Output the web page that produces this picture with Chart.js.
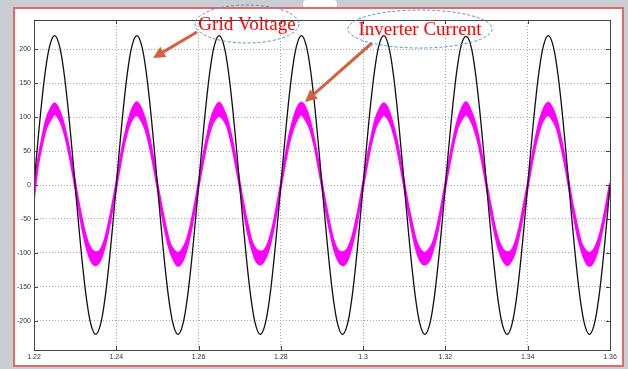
<!DOCTYPE html>
<html>
<head>
<meta charset="utf-8">
<script src="https://cdn.jsdelivr.net/npm/chart.js@4"></script>
<style>
  html, body { margin: 0; padding: 0; background: #fff; }
  #wrap { width: 628px; height: 369px; }
</style>
</head>
<body>
<div id="wrap"><canvas id="scopeChart" width="628" height="369"></canvas></div>
<script>
// sample instants (s)
const times = [
  1.220,1.221,1.222,1.223,1.224,1.225,1.226,1.227,1.228,1.229,1.230,1.231,1.232,1.233,1.234,1.235,1.236,1.237,1.238,1.239,
  1.240,1.241,1.242,1.243,1.244,1.245,1.246,1.247,1.248,1.249,1.250,1.251,1.252,1.253,1.254,1.255,1.256,1.257,1.258,1.259,
  1.260,1.261,1.262,1.263,1.264,1.265,1.266,1.267,1.268,1.269,1.270,1.271,1.272,1.273,1.274,1.275,1.276,1.277,1.278,1.279,
  1.280,1.281,1.282,1.283,1.284,1.285,1.286,1.287,1.288,1.289,1.290,1.291,1.292,1.293,1.294,1.295,1.296,1.297,1.298,1.299,
  1.300,1.301,1.302,1.303,1.304,1.305,1.306,1.307,1.308,1.309,1.310,1.311,1.312,1.313,1.314,1.315,1.316,1.317,1.318,1.319,
  1.320,1.321,1.322,1.323,1.324,1.325,1.326,1.327,1.328,1.329,1.330,1.331,1.332,1.333,1.334,1.335,1.336,1.337,1.338,1.339,
  1.340,1.341,1.342,1.343,1.344,1.345,1.346,1.347,1.348,1.349,1.350,1.351,1.352,1.353,1.354,1.355,1.356,1.357,1.358,1.359,
  1.360
];

const gridVoltage = [
  0, 68, 129, 178, 209, 220, 209, 178, 129, 68, 0, -68, -129, -178, -209, -220, -209, -178, -129, -68,
  0, 68, 129, 178, 209, 220, 209, 178, 129, 68, 0, -68, -129, -178, -209, -220, -209, -178, -129, -68,
  0, 68, 129, 178, 209, 220, 209, 178, 129, 68, 0, -68, -129, -178, -209, -220, -209, -178, -129, -68,
  0, 68, 129, 178, 209, 220, 209, 178, 129, 68, 0, -68, -129, -178, -209, -220, -209, -178, -129, -68,
  0, 68, 129, 178, 209, 220, 209, 178, 129, 68, 0, -68, -129, -178, -209, -220, -209, -178, -129, -68,
  0, 68, 129, 178, 209, 219, 209, 178, 129, 68, 0, -68, -129, -178, -209, -220, -209, -178, -129, -68,
  0, 68, 129, 178, 209, 220, 209, 178, 129, 68, 0, -68, -129, -178, -209, -220, -209, -178, -129, -68,
  0
];

// inverter current: top and bottom of the noisy band
const currentUpper = [
  -2, 38, 70, 97, 112, 120, 112, 95, 70, 40, 4, -30, -60, -83, -95, -99, -97, -84, -60, -30,
  3, 40, 71, 96, 114, 122, 113, 97, 72, 39, 2, -31, -61, -85, -96, -100, -95, -83, -61, -31,
  3, 39, 70, 97, 113, 121, 112, 96, 71, 40, 3, -30, -60, -84, -95, -98, -96, -84, -62, -31,
  2, 39, 72, 96, 114, 121, 114, 96, 70, 39, 3, -31, -61, -85, -97, -99, -96, -83, -60, -30,
  3, 40, 71, 97, 112, 120, 113, 95, 71, 40, 3, -31, -60, -84, -96, -100, -95, -84, -61, -31,
  3, 39, 70, 96, 113, 122, 112, 96, 72, 39, 2, -30, -61, -83, -95, -99, -97, -84, -61, -30,
  2, 39, 71, 97, 114, 121, 113, 97, 71, 40, 3, -31, -60, -85, -96, -100, -96, -83, -61, -31,
  3
];
const currentLower = [
  -20, 30, 60, 84, 96, 104, 98, 84, 61, 31, -3, -39, -72, -97, -113, -118, -112, -95, -70, -38,
  -4, 31, 62, 85, 98, 103, 96, 83, 60, 30, -4, -40, -71, -96, -111, -119, -113, -97, -72, -39,
  -3, 30, 61, 84, 97, 102, 97, 85, 61, 31, -3, -39, -72, -95, -112, -117, -111, -96, -71, -40,
  -3, 31, 61, 83, 97, 104, 96, 84, 62, 31, -3, -39, -70, -96, -112, -118, -113, -96, -71, -39,
  -3, 31, 62, 84, 96, 103, 98, 84, 61, 30, -4, -39, -71, -97, -113, -117, -112, -95, -72, -39,
  -3, 30, 61, 85, 97, 104, 97, 83, 61, 31, -3, -40, -71, -96, -111, -118, -112, -97, -71, -40,
  -4, 31, 61, 84, 98, 103, 96, 84, 60, 31, -3, -39, -72, -95, -112, -119, -113, -96, -70, -39,
  -3
];

const xTickValues = [1.22, 1.24, 1.26, 1.28, 1.30, 1.32, 1.34, 1.36];
const xTickLabels = ['1.22', '1.24', '1.26', '1.28', '1.3', '1.32', '1.34', '1.36'];
const yTickValues = [-200, -150, -100, -50, 0, 50, 100, 150, 200];

const callouts = [
  { text: 'Grid Voltage', cx: 247, cy: 24, rx: 52, ry: 19, from: [197, 32], to: [153, 58] },
  { text: 'Inverter Current', cx: 420, cy: 29, rx: 72, ry: 19, from: [372, 43], to: [305, 102] }
];

// page frame behind the chart
const framePlugin = {
  id: 'frame',
  beforeDraw(chart) {
    const ctx = chart.ctx;
    ctx.save();
    ctx.fillStyle = '#c9ced3';
    ctx.fillRect(0, 0, chart.width, chart.height);
    ctx.fillStyle = '#ffffff';
    ctx.fillRect(13, 7, 611, 360);
    ctx.beginPath();
    ctx.roundRect(303, 0, 34, 8, 6);
    ctx.fill();
    ctx.strokeStyle = '#e06a6a';
    ctx.lineWidth = 2;
    ctx.strokeRect(14, 8, 609, 358);
    ctx.restore();
  }
};

// scope style box with inward ticks, plus the callouts
const scopeBoxPlugin = {
  id: 'scopeBox',
  afterDraw(chart) {
    const ctx = chart.ctx;
    const a = chart.chartArea;
    const xs = chart.scales.x;
    const ys = chart.scales.y;
    ctx.save();
    ctx.strokeStyle = '#444';
    ctx.lineWidth = 1;
    ctx.strokeRect(Math.round(a.left) + 0.5, Math.round(a.top) + 0.5, Math.round(a.right - a.left), Math.round(a.bottom - a.top));
    ctx.beginPath();
    xTickValues.forEach(v => {
      const px = Math.round(xs.getPixelForValue(v)) + 0.5;
      ctx.moveTo(px, a.bottom); ctx.lineTo(px, a.bottom - 4);
      ctx.moveTo(px, a.top); ctx.lineTo(px, a.top + 4);
    });
    yTickValues.forEach(v => {
      const py = Math.round(ys.getPixelForValue(v)) + 0.5;
      ctx.moveTo(a.left, py); ctx.lineTo(a.left + 4, py);
      ctx.moveTo(a.right, py); ctx.lineTo(a.right - 4, py);
    });
    ctx.stroke();

    callouts.forEach(c => {
      // arrow
      const dx = c.to[0] - c.from[0], dy = c.to[1] - c.from[1];
      const len = Math.hypot(dx, dy);
      const ux = dx / len, uy = dy / len;
      const head = 12, half = 6;
      const bx = c.to[0] - ux * head, by = c.to[1] - uy * head;
      ctx.strokeStyle = '#d4623f';
      ctx.fillStyle = '#d4623f';
      ctx.lineWidth = 3;
      ctx.beginPath();
      ctx.moveTo(c.from[0], c.from[1]);
      ctx.lineTo(bx, by);
      ctx.stroke();
      ctx.beginPath();
      ctx.moveTo(c.to[0], c.to[1]);
      ctx.lineTo(bx - uy * half, by + ux * half);
      ctx.lineTo(bx + uy * half, by - ux * half);
      ctx.closePath();
      ctx.fill();
      // dashed ellipse
      ctx.strokeStyle = '#4a97d4';
      ctx.lineWidth = 1;
      ctx.setLineDash([3, 2]);
      ctx.beginPath();
      ctx.ellipse(c.cx, c.cy, c.rx, c.ry, 0, 0, Math.PI * 2);
      ctx.stroke();
      ctx.setLineDash([]);
      // label
      ctx.fillStyle = '#ff0000';
      ctx.font = '19px "Liberation Serif"';
      ctx.textAlign = 'center';
      ctx.textBaseline = 'middle';
      ctx.fillText(c.text, c.cx, c.cy + 1);
    });
    ctx.restore();
  }
};

const ctx = document.getElementById('scopeChart').getContext('2d');
const scopeChart = new Chart(ctx, {
  type: 'line',
  data: {
    labels: times,
    datasets: [
      {
        label: 'Grid Voltage',
        data: gridVoltage,
        borderColor: '#111',
        borderWidth: 1.3,
        pointRadius: 0,
        tension: 0.4,
        fill: false
      },
      {
        label: 'Inverter Current (upper)',
        data: currentUpper,
        borderColor: '#ff00ff',
        backgroundColor: '#ff00ff',
        borderWidth: 2,
        pointRadius: 0,
        tension: 0.4,
        fill: '+1'
      },
      {
        label: 'Inverter Current (lower)',
        data: currentLower,
        borderColor: '#ff00ff',
        borderWidth: 2,
        pointRadius: 0,
        tension: 0.4,
        fill: false
      }
    ]
  },
  options: {
    responsive: false,
    animation: false,
    devicePixelRatio: 1,
    layout: { padding: { left: 0, top: 20, right: 18, bottom: 0 } },
    plugins: {
      legend: { display: false },
      tooltip: { enabled: false }
    },
    scales: {
      x: {
        type: 'linear',
        min: 1.22,
        max: 1.36,
        afterBuildTicks: scale => { scale.ticks = xTickValues.map(v => ({ value: v })); },
        afterFit: scale => { scale.height = 19; },
        ticks: {
          autoSkip: false,
          maxRotation: 0,
          padding: 3,
          color: '#333',
          font: { family: 'Liberation Sans', size: 7 },
          callback: (value, index) => xTickLabels[index]
        },
        grid: { color: '#aaaaaa', lineWidth: 1, drawTicks: false },
        border: { display: false, dash: [1, 2] }
      },
      y: {
        min: -243,
        max: 243,
        afterBuildTicks: scale => { scale.ticks = yTickValues.map(v => ({ value: v })); },
        afterFit: scale => { scale.width = 34; },
        ticks: {
          padding: 3,
          color: '#333',
          font: { family: 'Liberation Sans', size: 7 }
        },
        grid: { color: '#aaaaaa', lineWidth: 1, drawTicks: false },
        border: { display: false, dash: [1, 2] }
      }
    }
  },
  plugins: [framePlugin, scopeBoxPlugin]
});
</script>
</body>
</html>
